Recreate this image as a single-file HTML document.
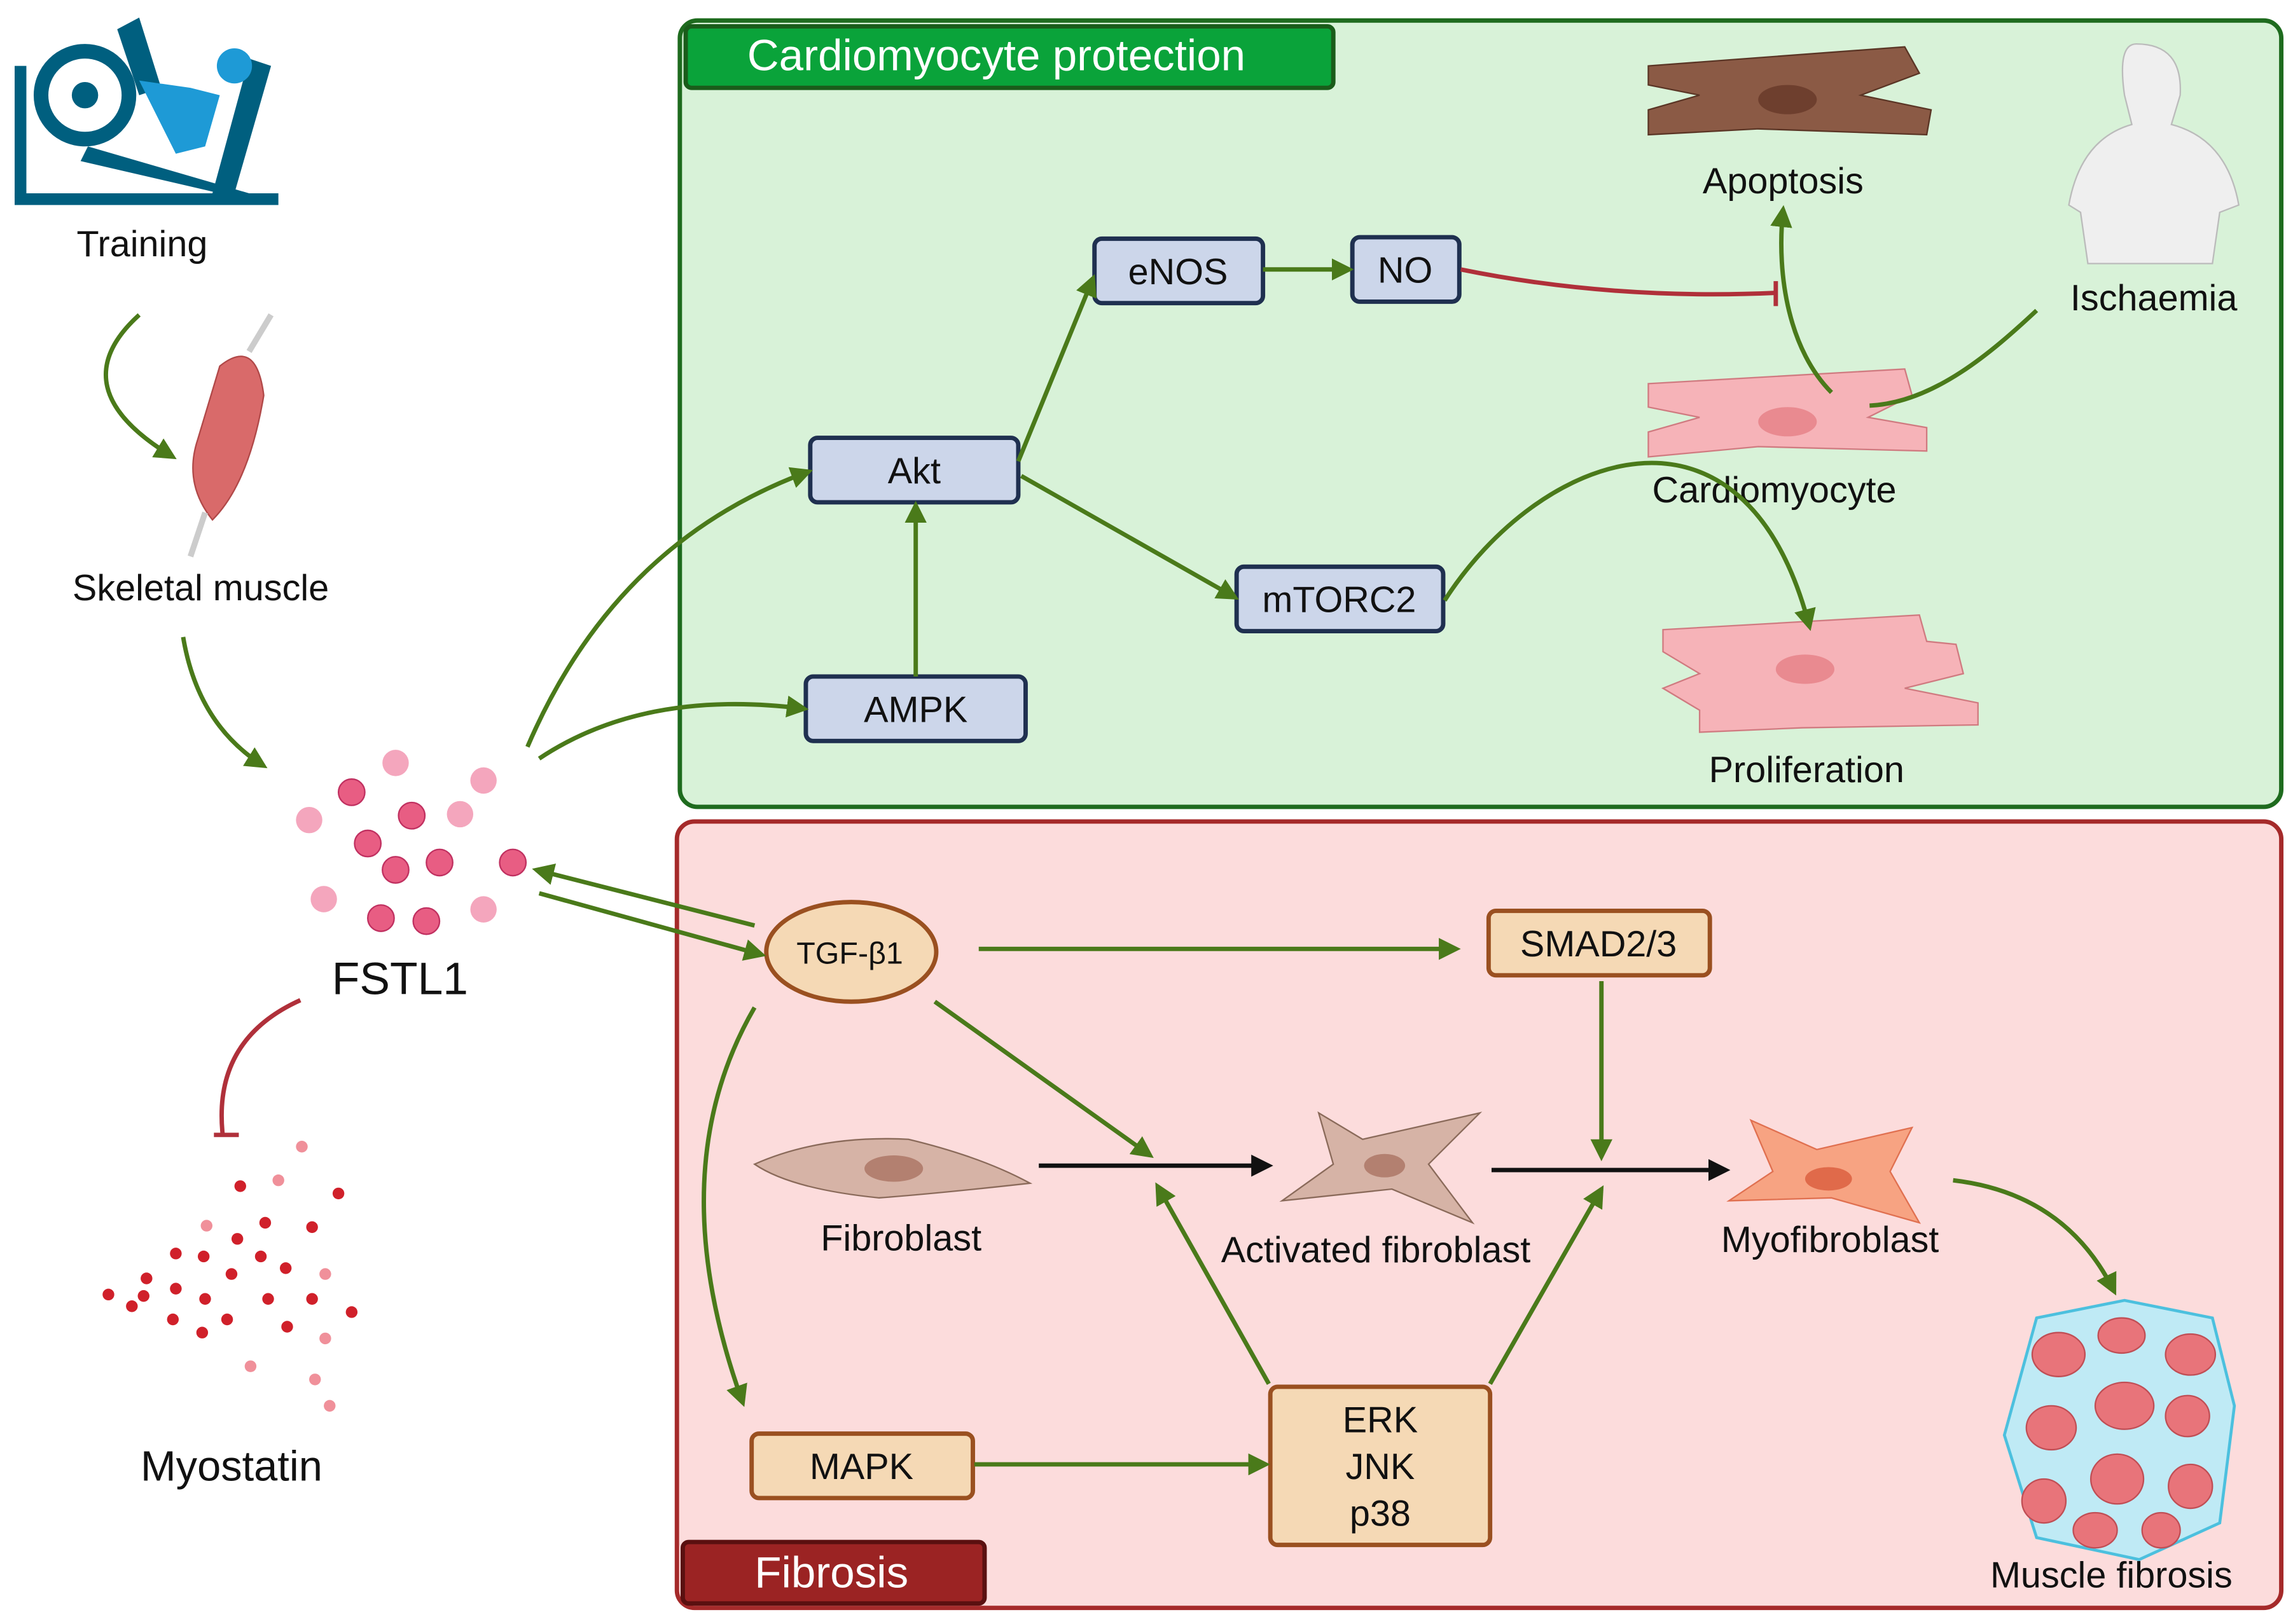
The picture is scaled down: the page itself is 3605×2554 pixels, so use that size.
<!DOCTYPE html>
<html><head><meta charset="utf-8">
<style>
html,body{margin:0;padding:0;background:#fff;}
svg{display:block;}
text{font-family:"Liberation Sans",sans-serif;fill:#111;}
</style></head>
<body>
<svg width="3605" height="2554" viewBox="0 0 1565 1109" preserveAspectRatio="none" xmlns="http://www.w3.org/2000/svg">
<defs>
<marker id="g" viewBox="0 0 10 10" refX="8" refY="5" markerWidth="5" markerHeight="5" orient="auto"><path d="M0,0L10,5L0,10z" fill="#4a7a1a"/></marker>
<marker id="k" viewBox="0 0 10 10" refX="8" refY="5" markerWidth="5" markerHeight="5" orient="auto"><path d="M0,0L10,5L0,10z" fill="#111"/></marker>
</defs>
<rect width="1565" height="1109" fill="#fff"/>
<rect x="464" y="14" width="1093" height="537" rx="12" fill="#d8f2d8" stroke="#1e6b1e" stroke-width="3"/>
<rect x="468" y="18" width="442" height="42" rx="4" fill="#0aa33a" stroke="#1a5c1a" stroke-width="3"/>
<text x="510" y="48" font-size="30" style="fill:#fff">Cardiomyocyte protection</text>
<rect x="462" y="561" width="1095" height="537" rx="12" fill="#fcdcdc" stroke="#a52a2a" stroke-width="3"/>
<rect x="466" y="1053" width="206" height="42" rx="4" fill="#9b2323" stroke="#5a1010" stroke-width="3"/>
<text x="515" y="1084" font-size="30" style="fill:#fff">Fibrosis</text>

<g fill="#005f7f">
<rect x="10" y="132" width="180" height="8"/>
<rect x="10" y="45" width="8" height="90"/>
<circle cx="58" cy="65" r="30" fill="none" stroke="#005f7f" stroke-width="10"/>
<circle cx="58" cy="65" r="9"/>
<polygon points="60,100 170,132 150,132 55,110"/>
<polygon points="170,40 185,45 160,132 145,132"/>
<polygon points="80,20 95,12 110,60 95,65"/>
</g>
<circle cx="160" cy="45" r="12" fill="#1e9ad6"/>
<path d="M95,55 L130,60 L150,65 L140,100 L120,105 Z" fill="#1e9ad6"/>
<path d="M150,250 Q175,230 180,270 Q170,330 145,355 Q125,330 135,300 Z" fill="#d96a6a" stroke="#b04848"/>
<line x1="170" y1="240" x2="185" y2="215" stroke="#ccc" stroke-width="4"/>
<line x1="140" y1="350" x2="130" y2="380" stroke="#ccc" stroke-width="4"/>

<text x="97" y="175" font-size="25" text-anchor="middle">Training</text>
<text x="137" y="410" font-size="25" text-anchor="middle">Skeletal muscle</text>
<text x="273" y="679" font-size="31" text-anchor="middle">FSTL1</text>
<text x="158" y="1011" font-size="29" text-anchor="middle">Myostatin</text>

<g fill="#f4a6bd">
<circle cx="270" cy="521" r="9"/><circle cx="330" cy="533" r="9"/><circle cx="211" cy="560" r="9"/><circle cx="314" cy="556" r="9"/><circle cx="221" cy="614" r="9"/><circle cx="330" cy="621" r="9"/>
</g>
<g fill="#e85d83" stroke="#c03060">
<circle cx="240" cy="541" r="9"/><circle cx="281" cy="557" r="9"/><circle cx="251" cy="576" r="9"/><circle cx="300" cy="589" r="9"/><circle cx="270" cy="594" r="9"/><circle cx="350" cy="589" r="9"/><circle cx="260" cy="627" r="9"/><circle cx="291" cy="629" r="9"/>
</g>
<g fill="#d0202a">
<circle cx="164" cy="810" r="4"/><circle cx="231" cy="815" r="4"/><circle cx="181" cy="835" r="4"/><circle cx="213" cy="838" r="4"/><circle cx="162" cy="846" r="4"/><circle cx="120" cy="856" r="4"/><circle cx="139" cy="858" r="4"/><circle cx="178" cy="858" r="4"/><circle cx="195" cy="866" r="4"/><circle cx="100" cy="873" r="4"/><circle cx="158" cy="870" r="4"/><circle cx="120" cy="880" r="4"/><circle cx="74" cy="884" r="4"/><circle cx="98" cy="885" r="4"/><circle cx="140" cy="887" r="4"/><circle cx="183" cy="887" r="4"/><circle cx="213" cy="887" r="4"/><circle cx="90" cy="892" r="4"/><circle cx="118" cy="901" r="4"/><circle cx="155" cy="901" r="4"/><circle cx="240" cy="896" r="4"/><circle cx="138" cy="910" r="4"/><circle cx="196" cy="906" r="4"/>
</g>
<g fill="#f0909a"><circle cx="206" cy="783" r="4"/><circle cx="190" cy="806" r="4"/><circle cx="141" cy="837" r="4"/><circle cx="222" cy="870" r="4"/><circle cx="222" cy="914" r="4"/><circle cx="171" cy="933" r="4"/><circle cx="215" cy="942" r="4"/><circle cx="225" cy="960" r="4"/></g>

<g fill="#ccd6ea" stroke="#1f3050" stroke-width="3">
<rect x="747" y="163" width="115" height="44" rx="5"/>
<rect x="923" y="162" width="73" height="44" rx="5"/>
<rect x="553" y="299" width="142" height="44" rx="5"/>
<rect x="550" y="462" width="150" height="44" rx="5"/>
<rect x="844" y="387" width="141" height="44" rx="5"/>
</g>
<g font-size="25" text-anchor="middle">
<text x="804" y="194">eNOS</text><text x="959" y="193">NO</text><text x="624" y="330">Akt</text><text x="625" y="493">AMPK</text><text x="914" y="418">mTORC2</text>
</g>
<path d="M1125,45 L1300,32 L1310,50 L1270,65 L1318,75 L1315,92 L1200,88 L1125,92 L1125,75 L1160,65 L1125,58Z" fill="#8b5a45" stroke="#5a3525"/>
<ellipse cx="1220" cy="68" rx="20" ry="10" fill="#6e3f2e"/>
<path d="M1125,262 L1300,252 L1305,270 L1275,285 L1315,292 L1315,308 L1200,305 L1125,312 L1125,295 L1160,285 L1125,278Z" fill="#f6b3b8" stroke="#d07a80"/>
<ellipse cx="1220" cy="288" rx="20" ry="10" fill="#e98a90"/>
<path d="M1135,430 L1310,420 L1315,438 L1335,440 L1340,460 L1300,470 L1350,480 L1350,495 L1230,497 L1160,500 L1160,485 L1135,470 L1160,460 L1135,445Z" fill="#f6b3b8" stroke="#d07a80"/>
<ellipse cx="1232" cy="457" rx="20" ry="10" fill="#e98a90"/>
<path d="M1458,30 Q1490,30 1488,65 L1482,85 Q1520,95 1528,140 L1515,145 L1510,180 L1425,180 L1420,145 L1412,140 Q1420,95 1455,85 L1450,65 Q1445,30 1458,30Z" fill="#efefef" stroke="#bbb"/>
<text x="1217" y="132" font-size="25" text-anchor="middle">Apoptosis</text>
<text x="1470" y="212" font-size="25" text-anchor="middle">Ischaemia</text>
<text x="1211" y="343" font-size="25" text-anchor="middle">Cardiomyocyte</text>
<text x="1233" y="534" font-size="25" text-anchor="middle">Proliferation</text>

<g fill="#f5d9b5" stroke="#9a5020" stroke-width="3">
<rect x="1016" y="622" width="151" height="44" rx="5"/>
<rect x="513" y="979" width="151" height="44" rx="5"/>
<rect x="867" y="947" width="150" height="108" rx="5"/>
<ellipse cx="581" cy="650" rx="58" ry="34"/>
</g>
<g font-size="25" text-anchor="middle">
<text x="1091" y="653">SMAD2/3</text><text x="588" y="1010">MAPK</text>
<text x="942" y="978">ERK</text><text x="942" y="1010">JNK</text><text x="942" y="1042">p38</text>
<text x="580" y="658" font-size="21">TGF-β1</text>
</g>
<path d="M515,795 Q560,775 620,778 Q670,790 703,808 Q640,815 600,818 Q540,812 515,795Z" fill="#d6b3a6" stroke="#8a6a5a"/>
<ellipse cx="610" cy="798" rx="20" ry="9" fill="#b38070"/>
<path d="M900,760 L930,778 L1010,760 L975,795 L1005,835 L950,812 L875,820 L910,795Z" fill="#d6b3a6" stroke="#8a6a5a"/>
<ellipse cx="945" cy="796" rx="14" ry="8" fill="#b38070"/>
<path d="M1195,765 L1240,785 L1305,770 L1290,800 L1310,835 L1250,818 L1180,820 L1210,800Z" fill="#f7a382" stroke="#e07050"/>
<ellipse cx="1248" cy="805" rx="16" ry="8" fill="#e06a4a"/>
<path d="M1390,900 L1450,888 L1510,900 L1525,960 L1515,1040 L1460,1065 L1390,1050 L1368,980Z" fill="#bfeaf5" stroke="#4cc0de" stroke-width="2"/>
<g fill="#e8747a" stroke="#c04e55">
<ellipse cx="1405" cy="925" rx="18" ry="15"/><ellipse cx="1448" cy="912" rx="16" ry="12"/><ellipse cx="1495" cy="925" rx="17" ry="14"/><ellipse cx="1400" cy="975" rx="17" ry="15"/><ellipse cx="1450" cy="960" rx="20" ry="16"/><ellipse cx="1493" cy="967" rx="15" ry="14"/><ellipse cx="1395" cy="1025" rx="15" ry="15"/><ellipse cx="1445" cy="1010" rx="18" ry="17"/><ellipse cx="1495" cy="1015" rx="15" ry="15"/><ellipse cx="1430" cy="1045" rx="15" ry="12"/><ellipse cx="1475" cy="1045" rx="13" ry="12"/>
</g>
<text x="615" y="854" font-size="25" text-anchor="middle">Fibroblast</text>
<text x="939" y="862" font-size="25" text-anchor="middle">Activated fibroblast</text>
<text x="1249" y="855" font-size="25" text-anchor="middle">Myofibroblast</text>
<text x="1441" y="1084" font-size="25" text-anchor="middle">Muscle fibrosis</text>

<g fill="none" stroke="#4a7a1a" stroke-width="3" marker-end="url(#g)">
<path d="M95,215 Q40,265 118,312"/>
<path d="M125,435 Q135,495 180,523"/>
<path d="M360,510 Q420,370 552,322"/>
<path d="M368,518 Q440,470 549,484"/>
<path d="M625,462 L625,345"/>
<path d="M695,315 L746,190"/>
<path d="M862,184 L921,184"/>
<path d="M697,325 L843,408"/>
<path d="M986,410 C1050,310 1190,255 1235,428"/>
<path d="M1250,268 C1222,240 1212,190 1217,143"/>
<path d="M515,632 L366,594"/>
<path d="M368,610 L520,652"/>
<path d="M668,648 L994,648"/>
<path d="M638,684 L785,789"/>
<path d="M515,688 Q450,800 507,958"/>
<path d="M1093,670 L1093,790"/>
<path d="M866,945 L790,810"/>
<path d="M1017,945 L1093,812"/>
<path d="M665,1000 L864,1000"/>
<path d="M1333,806 Q1410,815 1443,882"/>
</g>
<path d="M1276,277 C1320,275 1360,240 1390,212" fill="none" stroke="#4a7a1a" stroke-width="3"/>
<g fill="none" stroke="#111" stroke-width="3" marker-end="url(#k)">
<path d="M709,796 L866,796"/>
<path d="M1018,799 L1178,799"/>
</g>
<g fill="none" stroke="#b0303a" stroke-width="3">
<path d="M997,184 Q1100,205 1212,200"/><path d="M1212,192 L1212,209"/>
<path d="M205,683 Q145,710 152,775"/><path d="M146,775 L163,775"/>
</g>
</svg>
</body></html>
